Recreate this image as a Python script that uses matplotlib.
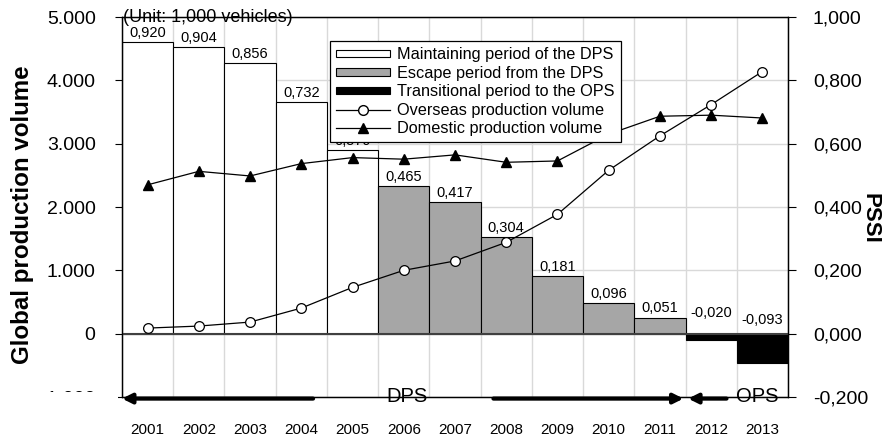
import matplotlib
matplotlib.use("Agg")
import matplotlib.pyplot as plt
from matplotlib.patches import Patch, Rectangle
from matplotlib.lines import Line2D
from matplotlib.ticker import FuncFormatter, FixedLocator
import numpy as np

plt.rcParams['font.family'] = ['Liberation Sans', 'DejaVu Sans']

years = ['2001', '2002', '2003', '2004', '2005', '2006', '2007',
         '2008', '2009', '2010', '2011', '2012', '2013']
pssi = [0.920, 0.904, 0.856, 0.732, 0.579, 0.465, 0.417,
        0.304, 0.181, 0.096, 0.051, -0.020, -0.093]
pssi_labels = ['0,920', '0,904', '0,856', '0,732', '0,579', '0,465', '0,417',
               '0,304', '0,181', '0,096', '0,051', '-0,020', '-0,093']
period = ['maintain'] * 5 + ['escape'] * 6 + ['transition'] * 2
overseas = [88, 120, 183, 404, 731, 1000, 1148, 1442, 1884, 2580, 3123, 3617, 4139]
domestic = [2350, 2563, 2490, 2685, 2780, 2755, 2823, 2706, 2727, 3150, 3433, 3450, 3405]

period_colors = {'maintain': 'white', 'escape': '#a6a6a6', 'transition': 'black'}
legend_names = {'maintain': 'Maintaining period of the DPS',
                'escape': 'Escape period from the DPS',
                'transition': 'Transitional period to the OPS'}

W, H = 885, 438
fig = plt.figure(figsize=(W / 100, H / 100), dpi=100)
L, R, T, B = 122, 788, 17, 397
ax = fig.add_axes([L / W, 1 - B / H, (R - L) / W, (B - T) / H])
ax2 = ax.twinx()

x = np.arange(len(years))

# bars on ax (PSSI scale, shown on right)
cols = [period_colors[p] for p in period]
ax.bar(x, pssi, width=1.0, color=cols, edgecolor='black', linewidth=0.8, zorder=2)
ax.set_ylim(-0.2, 1.0)
ax.set_xlim(-0.5, len(years) - 0.5)
ax.yaxis.set_major_locator(FixedLocator(np.arange(-0.2, 1.01, 0.2)))
ax.yaxis.set_major_formatter(FuncFormatter(lambda v, p: f"{v:.3f}".replace('.', ',') if abs(v) > 1e-9 else "0,000"))
ax.yaxis.tick_right()
ax.yaxis.set_label_position('right')
ax.set_axisbelow(True)
ax.grid(True, axis='y', color='#d9d9d9', linewidth=1.0, zorder=0)
for b in np.arange(-0.5, len(years), 1.0):
    ax.axvline(b, color='#d9d9d9', linewidth=1.0, zorder=0)
ax.axhline(0, color='#404040', linewidth=1.5, zorder=3)

# bar labels
for xi, v, lab in zip(x, pssi, pssi_labels):
    if v >= 0:
        ax.annotate(lab, (xi, v), xytext=(0, 1.5), textcoords='offset points',
                    ha='center', va='bottom', fontsize=10.5, zorder=4)
    else:
        off = 9.5 if v > -0.05 else 4.5
        ax.annotate(lab, (xi, 0), xytext=(0, off), textcoords='offset points',
                    ha='center', va='bottom', fontsize=10.5, zorder=4)

# lines on ax2 (volume scale, shown on left)
ax2.plot(x, overseas, color='black', linewidth=0.9, marker='o', markersize=7,
         markerfacecolor='white', markeredgecolor='black', markeredgewidth=0.9, zorder=5)
ax2.plot(x, domestic, color='black', linewidth=0.9, marker='^', markersize=6.5,
         markerfacecolor='black', markeredgecolor='black', zorder=5)
ax2.set_ylim(-1000, 5000)
ax2.yaxis.set_major_locator(FixedLocator(np.arange(-1000, 5001, 1000)))
ax2.yaxis.set_major_formatter(FuncFormatter(lambda v, p: f"{int(round(v)):,}".replace(',', '.')))
ax2.yaxis.tick_left()
ax2.yaxis.set_label_position('left')

for a in (ax, ax2):
    for s in a.spines.values():
        s.set_color('black')
        s.set_linewidth(0.9)

ax.tick_params(axis='y', which='major', direction='out', length=6, width=0.8,
               labelsize=14, pad=12, colors='black')
ax2.tick_params(axis='y', which='major', direction='out', length=5, width=0.8,
                labelsize=14, pad=14, colors='black')
ax.set_xticks(x)
ax.set_xticklabels(years, fontsize=11)
ax.tick_params(axis='x', length=0, pad=19)
ax2.tick_params(axis='x', length=0)

ax2.set_ylabel('Global production volume', fontsize=17.4, fontweight='bold',
               va='center', ha='center')
ax.set_ylabel('PSSI', fontsize=16, fontweight='bold', rotation=270,
              va='center', ha='center')
ax.yaxis.set_label_coords(1.1235, 0.47)
ax2.yaxis.set_label_coords(-0.149, 0.479)

ax2.text(0.002, 1.0, '(Unit: 1,000 vehicles)', transform=ax2.transAxes,
         ha='left', va='center', fontsize=13, zorder=6)

# legend
handles = [Patch(facecolor=period_colors[k], edgecolor='black', linewidth=0.8, label=legend_names[k])
           for k in ['maintain', 'escape', 'transition']]
handles += [Line2D([], [], color='black', linewidth=0.9, marker='o', markersize=7,
                   markerfacecolor='white', label='Overseas production volume'),
            Line2D([], [], color='black', linewidth=0.9, marker='^', markersize=6.5,
                   markerfacecolor='black', label='Domestic production volume')]
leg = ax2.legend(handles=handles, loc='upper left', bbox_to_anchor=(0.312, 0.936),
                 fontsize=11.7, frameon=True, fancybox=False, framealpha=1,
                 edgecolor='black', handlelength=3.3, handleheight=0.3,
                 handletextpad=0.45, labelspacing=0.21, borderpad=0.38,
                 borderaxespad=0)
leg.get_frame().set_linewidth(0.9)
leg.set_zorder(10)

# period arrows along bottom
arrow_kw = dict(arrowstyle='-|>', color='black', lw=3, mutation_scale=14,
                shrinkA=0, shrinkB=0)
yb = -0.205
ax.annotate('', xy=(-0.5, yb), xytext=(3.23, yb), xycoords='data',
            arrowprops=arrow_kw, annotation_clip=False, zorder=8)
ax.annotate('', xy=(10.46, yb), xytext=(6.75, yb), xycoords='data',
            arrowprops=arrow_kw, annotation_clip=False, zorder=8)
ax.annotate('', xy=(10.55, yb), xytext=(11.3, yb), xycoords='data',
            arrowprops=arrow_kw, annotation_clip=False, zorder=8)
ax.text(5.07, -0.2, 'DPS', ha='center', va='center', fontsize=14.5, zorder=8)
ax.text(11.9, -0.2, 'OPS', ha='center', va='center', fontsize=14.5, zorder=8)

# mask lower half of the cut-off -1.000 label as in the reference
fig.patches.append(Rectangle((0, 0), 118 / W, 1 - 392 / H, transform=fig.transFigure,
                             facecolor='white', edgecolor='none', zorder=5))

fig.savefig('out.png', dpi=100)
